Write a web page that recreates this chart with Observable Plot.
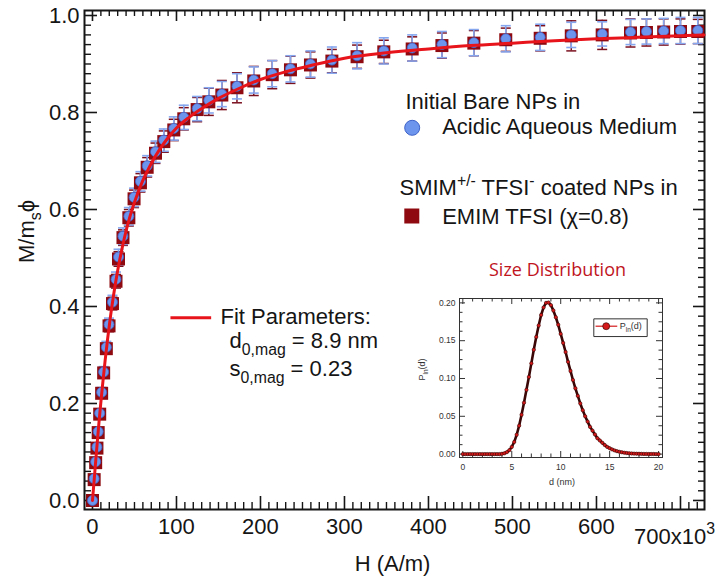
<!DOCTYPE html>
<html><head><meta charset="utf-8">
<script src="https://cdn.jsdelivr.net/npm/d3@7"></script>
<script src="https://cdn.jsdelivr.net/npm/@observablehq/plot@0.6"></script>
<style>
body{margin:0;background:#fff}
#wrap{position:relative;width:723px;height:581px;background:#fff}
#inset{position:absolute;left:409px;top:285px}
</style>
</head><body><div id="wrap"><div id="main"></div><div id="inset"></div></div>
<script>
// ---- main data: field H (kA/m), reduced magnetization M/(ms*phi)
const H = [0, 2.0, 3.8, 5.3, 6.8, 8.6, 10.9, 13.3, 16.5, 19.7,
  23.8, 28.0, 31.0, 36.3, 43.3, 49.5, 57.1, 65.1, 75.0, 84.9,
  96.8, 108.7, 124.6, 138.5, 154, 172, 192, 214, 235.7, 259.5,
  285, 315, 346.8, 380.6, 416, 454, 492, 533, 570, 606.8,
  640.5, 659.5, 680, 700, 720.6];
const mBare = [0.000, 0.045, 0.080, 0.110, 0.142, 0.180, 0.223, 0.265, 0.316, 0.363,
  0.409, 0.456, 0.502, 0.545, 0.586, 0.625, 0.658, 0.690, 0.719, 0.743,
  0.767, 0.790, 0.808, 0.825, 0.838, 0.854, 0.867, 0.880, 0.890, 0.900,
  0.908, 0.917, 0.927, 0.933, 0.940, 0.944, 0.952, 0.955, 0.960, 0.962,
  0.966, 0.967, 0.968, 0.969, 0.969];
const errBare = [0.004, 0.005, 0.006, 0.007, 0.008, 0.009, 0.010, 0.011, 0.012, 0.013,
  0.014, 0.015, 0.016, 0.017, 0.018, 0.019, 0.020, 0.021, 0.022, 0.023,
  0.024, 0.025, 0.025, 0.026, 0.026, 0.026, 0.027, 0.027, 0.027, 0.027,
  0.027, 0.027, 0.027, 0.027, 0.027, 0.027, 0.027, 0.027, 0.026, 0.025,
  0.026, 0.026, 0.026, 0.027, 0.027];
const mCoated = [0.000, 0.043, 0.078, 0.108, 0.140, 0.178, 0.221, 0.263, 0.313, 0.360,
  0.406, 0.452, 0.498, 0.542, 0.583, 0.622, 0.655, 0.687, 0.716, 0.740,
  0.764, 0.787, 0.806, 0.822, 0.836, 0.851, 0.865, 0.878, 0.888, 0.898,
  0.906, 0.915, 0.925, 0.931, 0.938, 0.943, 0.950, 0.953, 0.958, 0.960,
  0.964, 0.965, 0.966, 0.967, 0.967];
const errCoated = [0.004, 0.004, 0.005, 0.006, 0.007, 0.008, 0.009, 0.010, 0.011, 0.012,
  0.013, 0.014, 0.015, 0.016, 0.017, 0.018, 0.019, 0.020, 0.021, 0.022,
  0.022, 0.023, 0.025, 0.028, 0.030, 0.031, 0.030, 0.029, 0.028, 0.027,
  0.024, 0.024, 0.024, 0.025, 0.026, 0.026, 0.024, 0.026, 0.031, 0.030,
  0.029, 0.028, 0.027, 0.026, 0.025];
// fit curve
const fitH = [0, 2, 4, 6, 8, 10, 12, 15, 18, 21, 25, 30, 35, 40, 45, 50, 60, 70, 80, 90,
  100, 115, 130, 150, 175, 200, 230, 260, 300, 350, 400, 450, 500, 550, 600, 650, 700, 728];
const fitM = [0, 0.042, 0.085, 0.126, 0.166, 0.203, 0.238, 0.288, 0.333, 0.374, 0.422, 0.474,
  0.518, 0.556, 0.588, 0.615, 0.660, 0.695, 0.724, 0.748, 0.768, 0.790, 0.808, 0.829, 0.850,
  0.868, 0.884, 0.897, 0.912, 0.923, 0.931, 0.938, 0.943, 0.948, 0.952, 0.955, 0.958, 0.960];
// axis ticks / labels
const xMajor = [0, 100, 200, 300, 400, 500, 600, 700];
const xLabels = ["0", "100", "200", "300", "400", "500", "600"];
const yMajor = [0, 0.2, 0.4, 0.6, 0.8, 1.0];
const yLabels = ["0.0", "0.2", "0.4", "0.6", "0.8", "1.0"];
// legend texts
const legendBare = ["Initial Bare NPs in", "Acidic Aqueous Medium"];
const legendCoated = ["SMIM^{+/-} TFSI^{-} coated NPs in", "EMIM TFSI (\u03C7=0.8)"];
const fitText = ["Fit Parameters:", "d_{0,mag} = 8.9 nm", "s_{0,mag} = 0.23"];

// ---- inset data: log-normal size distribution
const dNm = [0, 0.25, 0.5, 0.75, 1, 1.25, 1.5, 1.75, 2, 2.25, 2.5, 2.75, 3, 3.25, 3.5, 3.75,
  4, 4.25, 4.5, 4.75, 5, 5.25, 5.5, 5.75, 6, 6.25, 6.5, 6.75, 7, 7.25, 7.5, 7.75,
  8, 8.25, 8.5, 8.75, 9, 9.25, 9.5, 9.75, 10, 10.25, 10.5, 10.75, 11, 11.25, 11.5, 11.75,
  12, 12.25, 12.5, 12.75, 13, 13.25, 13.5, 13.75, 14, 14.25, 14.5, 14.75, 15, 15.25, 15.5, 15.75,
  16, 16.25, 16.5, 16.75, 17, 17.25, 17.5, 17.75, 18, 18.25, 18.5, 18.75, 19, 19.25, 19.5, 19.75, 20];
const pLn = [0, 0, 0, 0, 0, 0, 0, 0, 0, 0, 0, 0, 0, 0, 0, 0,
  0.0004, 0.0011, 0.0026, 0.0052, 0.0095, 0.0160, 0.0255, 0.0375, 0.052, 0.068, 0.085, 0.102, 0.120, 0.138, 0.155, 0.170,
  0.184, 0.194, 0.200, 0.2005, 0.197, 0.190, 0.181, 0.171, 0.159, 0.147, 0.135, 0.122, 0.110, 0.098, 0.087, 0.077,
  0.067, 0.058, 0.050, 0.043, 0.036, 0.031, 0.026, 0.021, 0.018, 0.015, 0.012, 0.0095, 0.0078, 0.0062, 0.0049, 0.0039,
  0.0030, 0.0024, 0.0018, 0.0014, 0.0011, 0.0008, 0.0006, 0.0005, 0.0004, 0.0003, 0.0002, 0.0002, 0.0001, 0.0001, 0.0001, 0, 0];
const dMajor = [0, 5, 10, 15, 20];
const dLabels = ["0", "5", "10", "15", "20"];
const pMajor = [0, 0.05, 0.10, 0.15, 0.20];
const pLabels = ["0.00", "0.05", "0.10", "0.15", "0.20"];

// ---- helpers
const hline = w => ({draw(ctx) { ctx.moveTo(-w / 2, 0); ctx.lineTo(w / 2, 0); }});
const rectSym = (w, h) => ({draw(ctx) { ctx.rect(-w / 2, -h / 2, w, h); }});

function richify(root) {
  root.querySelectorAll("text").forEach(t => {
    const s = t.textContent;
    if (!/[_^]\{/.test(s)) return;
    const fs = parseFloat(getComputedStyle(t).fontSize);
    const parts = [];
    const re = /([_^])\{([^}]*)\}|([^_^]+)/g;
    let m;
    while ((m = re.exec(s))) parts.push(m[3] !== undefined ? {t: m[3], k: 0} : {t: m[2], k: m[1] === "_" ? 1 : 2});
    while (t.firstChild) t.removeChild(t.firstChild);
    let cur = 0;
    for (const p of parts) {
      const ts = document.createElementNS("http://www.w3.org/2000/svg", "tspan");
      const target = p.k === 1 ? 0.32 * fs : p.k === 2 ? -0.42 * fs : 0;
      if (target !== cur) ts.setAttribute("dy", (target - cur).toFixed(2));
      if (p.k) ts.setAttribute("font-size", (0.72 * fs).toFixed(2));
      ts.textContent = p.t;
      cur = target;
      t.appendChild(ts);
    }
  });
}

// ---- main plot
const W = 723, HT = 581, mL = 84, mR = 19, mT = 10, mB = 72;
const pw = W - mL - mR, ph = HT - mT - mB;
const bare = H.map((h, i) => ({H: h, M: mBare[i], e: errBare[i]}));
const coated = H.map((h, i) => ({H: h, M: mCoated[i], e: errCoated[i]}));
const fit = fitH.map((h, i) => ({H: h, M: fitM[i]}));
const xMinor = d3.range(0, 721, 10).filter(v => v % 100 !== 0);
const yMinor = d3.range(1, 50).map(k => k * 0.02).filter((v, k) => (k + 1) % 10 !== 0);

const ink = "#151515";
const blueFill = "#6e95ee", blueEdge = "#3d62c8", blueBar = "#86a6ee";
const redFill = "#8e0a10", redBar = "#7a0f1e", fitRed = "#e8141b";
const font = "'Liberation Sans', Arial, sans-serif";

const main = Plot.plot({
  width: W, height: HT,
  marginLeft: mL, marginRight: mR, marginTop: mT, marginBottom: mB,
  x: {domain: [-9.5, 728.6], axis: null},
  y: {domain: [-0.0186, 1.0103], axis: null},
  style: {fontFamily: font, fontSize: "22px", background: "white", color: ink, overflow: "visible"},
  marks: [
    // ticks (inward, all four sides)
    Plot.tickX(xMajor, {x: d => d, insetTop: ph - 13, stroke: ink, strokeWidth: 1.6}),
    Plot.tickX(xMinor, {x: d => d, insetTop: ph - 7, stroke: ink, strokeWidth: 1.4}),
    Plot.tickX(xMajor, {x: d => d, insetBottom: ph - 11, stroke: ink, strokeWidth: 1.6}),
    Plot.tickX(xMinor, {x: d => d, insetBottom: ph - 6, stroke: ink, strokeWidth: 1.4}),
    Plot.tickY(yMajor, {y: d => d, insetRight: pw - 13, stroke: ink, strokeWidth: 1.6}),
    Plot.tickY(yMinor, {y: d => d, insetRight: pw - 7, stroke: ink, strokeWidth: 1.4}),
    Plot.tickY(yMajor, {y: d => d, insetLeft: pw - 11, stroke: ink, strokeWidth: 1.6}),
    Plot.tickY(yMinor, {y: d => d, insetLeft: pw - 6, stroke: ink, strokeWidth: 1.4}),
    Plot.frame({stroke: ink, strokeWidth: 2}),
    // tick labels
    Plot.text(xLabels, {x: (d, i) => xMajor[i], text: d => d, frameAnchor: "bottom", dy: 17, lineAnchor: "middle", fill: ink}),
    Plot.text(["700x10^{3}"], {x: () => xMajor[7], frameAnchor: "bottom", dx: -6, dy: 27, lineAnchor: "middle", fill: ink}),
    Plot.text(yLabels, {y: (d, i) => yMajor[i], text: d => d, frameAnchor: "left", textAnchor: "end", dx: -5, lineAnchor: "middle", fill: ink}),
    // axis titles
    Plot.text(["H (A/m)"], {frameAnchor: "bottom", dx: -2, dy: 54, lineAnchor: "middle", fill: ink}),
    Plot.text(["M/m_{s}\u03D5"], {frameAnchor: "left", dx: -58, dy: 3, rotate: -90, lineAnchor: "middle", fill: ink}),
    // error bars (coated: dark red) underneath
    Plot.ruleX(coated, {x: "H", y1: d => d.M - d.e, y2: d => d.M + d.e, stroke: redBar, strokeWidth: 1.5}),
    Plot.dot(coated, {x: "H", y: d => d.M - d.e, symbol: hline(10), stroke: redBar, strokeWidth: 1.5, fill: "none"}),
    Plot.dot(coated, {x: "H", y: d => d.M + d.e, symbol: hline(10), stroke: redBar, strokeWidth: 1.5, fill: "none"}),
    // error bars (bare: blue)
    Plot.ruleX(bare, {x: "H", y1: d => d.M - d.e, y2: d => d.M + d.e, stroke: blueBar, strokeWidth: 1.6}),
    Plot.dot(bare, {x: "H", y: d => d.M - d.e, symbol: hline(10), stroke: blueBar, strokeWidth: 1.6, fill: "none"}),
    Plot.dot(bare, {x: "H", y: d => d.M + d.e, symbol: hline(10), stroke: blueBar, strokeWidth: 1.6, fill: "none"}),
    // markers
    Plot.dot(coated, {x: "H", y: "M", symbol: rectSym(13, 13), fill: redFill, stroke: "none"}),
    Plot.dot(bare, {x: "H", y: "M", r: 5, fill: blueFill, stroke: blueEdge, strokeWidth: 0.8}),
    // fit
    Plot.line(fit, {x: "H", y: "M", stroke: fitRed, strokeWidth: 3, curve: "monotone-x"}),
    // legend
    Plot.text([legendBare[0]], {frameAnchor: "top-left", dx: 321, dy: 91, textAnchor: "start", lineAnchor: "middle", fill: ink}),
    Plot.dot([0], {frameAnchor: "top-left", dx: 327.7, dy: 127.3 - mT, r: 7.5, fill: blueFill, stroke: blueEdge, strokeWidth: 1}),
    Plot.text([legendBare[1]], {frameAnchor: "top-left", dx: 357.7, dy: 116.5, textAnchor: "start", lineAnchor: "middle", fill: ink}),
    Plot.text([legendCoated[0]], {frameAnchor: "top-left", dx: 315, dy: 177.5, textAnchor: "start", lineAnchor: "middle", fill: ink}),
    Plot.dot([0], {frameAnchor: "top-left", dx: 327.3, dy: 205.5, symbol: rectSym(15, 15), fill: redFill, stroke: "none"}),
    Plot.text([legendCoated[1]], {frameAnchor: "top-left", dx: 357.7, dy: 206, textAnchor: "start", lineAnchor: "middle", fill: ink}),
    // fit legend
    Plot.dot([0], {frameAnchor: "top-left", dx: 106.3, dy: 307.3, symbol: hline(40.7), stroke: fitRed, strokeWidth: 3, fill: "none"}),
    Plot.text([fitText[0]], {frameAnchor: "top-left", dx: 136, dy: 306, textAnchor: "start", lineAnchor: "middle", fill: ink}),
    Plot.text([fitText[1]], {frameAnchor: "top-left", dx: 145, dy: 330, textAnchor: "start", lineAnchor: "middle", fill: ink}),
    Plot.text([fitText[2]], {frameAnchor: "top-left", dx: 145, dy: 358, textAnchor: "start", lineAnchor: "middle", fill: ink}),
    // inset title
    Plot.text(["Size Distribution"], {frameAnchor: "top-left", dx: 473, dy: 260, textAnchor: "middle", lineAnchor: "middle", fill: "#c0141e", fontSize: 18, fontFamily: "'Open Sans', Lato, sans-serif"})
  ]
});
document.getElementById("main").appendChild(main);

// ---- inset plot
const iW = 260, iH = 205, iL = 50, iR = 7, iT = 13, iB = 33;
const ipw = iW - iL - iR, iph = iH - iT - iB;
const dist = dNm.map((d, i) => ({d, p: pLn[i]}));
const dMinor = d3.range(1, 20).filter(v => v % 5 !== 0);
const pMinor = d3.range(1, 16).map(k => k * 0.0125).filter((v, k) => (k + 1) % 4 !== 0);
const iInk = "#333";
const inset = Plot.plot({
  width: iW, height: iH,
  marginLeft: iL, marginRight: iR, marginTop: iT, marginBottom: iB,
  x: {domain: [-0.34, 20.4], axis: null},
  y: {domain: [-0.0045, 0.2058], axis: null},
  style: {fontFamily: font, fontSize: "8.5px", background: "transparent", color: iInk, overflow: "visible"},
  marks: [
    Plot.tickX(dMajor, {x: d => d, insetTop: iph - 6, stroke: iInk, strokeWidth: 1}),
    Plot.tickX(dMinor, {x: d => d, insetTop: iph - 3.5, stroke: iInk, strokeWidth: 1}),
    Plot.tickX(dMajor, {x: d => d, insetBottom: iph - 6, stroke: iInk, strokeWidth: 1}),
    Plot.tickX(dMinor, {x: d => d, insetBottom: iph - 3.5, stroke: iInk, strokeWidth: 1}),
    Plot.tickY(pMajor, {y: d => d, insetRight: ipw - 6, stroke: iInk, strokeWidth: 1}),
    Plot.tickY(pMinor, {y: d => d, insetRight: ipw - 3.5, stroke: iInk, strokeWidth: 1}),
    Plot.tickY(pMajor, {y: d => d, insetLeft: ipw - 6, stroke: iInk, strokeWidth: 1}),
    Plot.tickY(pMinor, {y: d => d, insetLeft: ipw - 3.5, stroke: iInk, strokeWidth: 1}),
    Plot.frame({stroke: iInk, strokeWidth: 1}),
    Plot.text(dLabels, {x: (d, i) => dMajor[i], text: d => d, frameAnchor: "bottom", dy: 10, lineAnchor: "middle", fill: iInk}),
    Plot.text(pLabels, {y: (d, i) => pMajor[i], text: d => d, frameAnchor: "left", textAnchor: "end", dx: -4, lineAnchor: "middle", fill: iInk}),
    Plot.text(["d (nm)"], {frameAnchor: "bottom", dx: 1, dy: 25, lineAnchor: "middle", fill: iInk, fontSize: 9}),
    Plot.text(["P_{ln}(d)"], {frameAnchor: "left", dx: -37, dy: 2.5, rotate: -90, lineAnchor: "middle", fill: iInk, fontSize: 9}),
    Plot.line(dist, {x: "d", y: "p", stroke: "#3a0606", strokeWidth: 2.6}),
    Plot.dot(dist, {x: "d", y: "p", r: 1.7, fill: "#d41a1a", stroke: "#2a0000", strokeWidth: 0.5}),
    // inset legend
    Plot.dot([0], {frameAnchor: "top-left", dx: 161, dy: 29.2, symbol: rectSym(53.4, 17.7), fill: "white", stroke: iInk, strokeWidth: 1}),
    Plot.dot([0], {frameAnchor: "top-left", dx: 146.9, dy: 27.7, symbol: hline(21.7), stroke: "#d41a1a", strokeWidth: 1.2, fill: "none"}),
    Plot.dot([0], {frameAnchor: "top-left", dx: 146.7, dy: 27.7, r: 3.5, fill: "#d41a1a", stroke: "#2a0000", strokeWidth: 0.6}),
    Plot.text(["P_{ln}(d)"], {frameAnchor: "top-left", dx: 160.3, dy: 27.7, textAnchor: "start", lineAnchor: "middle", fill: iInk, fontSize: 9})
  ]
});
document.getElementById("inset").appendChild(inset);

richify(main);
richify(inset);
</script>
</body></html>
